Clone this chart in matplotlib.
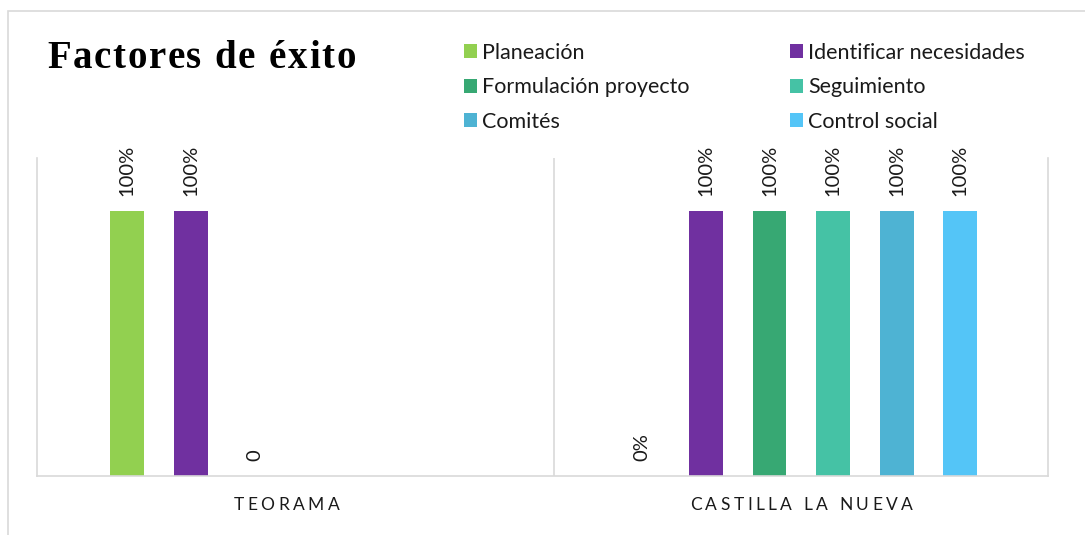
import numpy as np
import matplotlib.pyplot as plt
from matplotlib.patches import Rectangle
from matplotlib.font_manager import FontProperties

# datos
municipios = ["TEORAMA", "CASTILLA LA NUEVA"]
factores = ["Planeación", "Identificar necesidades", "Formulación proyecto",
            "Seguimiento", "Comités", "Control social"]
colores = ["#92D050", "#7030A0", "#37A873", "#45C2A5", "#4EB3D3", "#54C5F7"]

planeacion = [1.0, 0.0]
identificar = [1.0, 1.0]
formulacion = [0.0, 1.0]
seguimiento = [np.nan, 1.0]
comites = [np.nan, 1.0]
control_social = [np.nan, 1.0]
series = [planeacion, identificar, formulacion, seguimiento, comites, control_social]

# formato de etiqueta por serie y municipio (None = sin etiqueta)
formatos = [["{:.0%}", "{:.0%}"],
            ["{:.0%}", "{:.0%}"],
            ["{:.0f}", "{:.0%}"],
            [None, "{:.0%}"],
            [None, "{:.0%}"],
            [None, "{:.0%}"]]

W, H = 1085, 535
plt.rcParams['font.family'] = ['Lato', 'DejaVu Sans']
fig = plt.figure(figsize=(W / 100, H / 100), dpi=100)
renderer = fig.canvas.get_renderer()


def px(x, y):
    return x / W, 1 - y / H


def texto_espaciado(x, y, s, track, ha='left', **kw):
    # dibuja caracter por caracter con espaciado extra
    fp = FontProperties(family=kw.get('family'), size=kw.get('fontsize'),
                        weight=kw.get('fontweight', 'normal'))

    def ancho(t):
        if not t:
            return 0.0
        w, _, _ = renderer.get_text_width_height_descent(t, fp, ismath=False)
        return w

    total = ancho(s) + track * (len(s) - 1)
    x0 = x - total / 2 if ha == 'center' else x
    for i, ch in enumerate(s):
        fig.text(*px(x0 + ancho(s[:i]) + track * i, y), ch,
                 ha='left', va='baseline', **kw)


# marco del grafico
fig.patches.append(Rectangle(px(8, 600), (W + 20) / W, 589 / H, transform=fig.transFigure,
                             fill=False, edgecolor="#D9D9D9", linewidth=1.2))

ax = fig.add_axes([37 / W, 1 - 476 / H, (1048 - 37) / W, (476 - 158) / H])
x = np.arange(len(municipios))
ancho_barra = 0.066
paso = 0.1235
for i, (vals, col, fmts) in enumerate(zip(series, colores, formatos)):
    xs = x + (i - 2.5) * paso
    ax.bar(xs, np.nan_to_num(vals), width=ancho_barra, color=col, label=factores[i])
    for xi, v, f in zip(xs, vals, fmts):
        if f is None or np.isnan(v):
            continue
        ax.annotate(f.format(v), (xi, v), xytext=(0, 11), textcoords='offset points',
                    rotation=90, ha='center', va='bottom', fontsize=14.5, color="#1a1a1a")

ax.set_xlim(-0.484, 1.479)
ax.set_ylim(0, 1.2)
ax.set_xticks([])
ax.set_yticks([])
for lado in ['left', 'right', 'bottom']:
    ax.spines[lado].set_color("#D9D9D9")
    ax.spines[lado].set_linewidth(1.2)
ax.spines['top'].set_visible(False)
ax.axvline(0.52, color="#D9D9D9", linewidth=1.2)

for xi, nombre in zip(x, municipios):
    cx = ax.transData.transform((xi, 0))[0]
    texto_espaciado(cx, 510, nombre, 3.5, ha='center', fontsize=12.5, color="#1a1a1a")

texto_espaciado(47, 68, "Factores de éxito", 1.75, family='Liberation Serif',
                fontsize=28, fontweight='bold', color='black')

handles, labels = ax.get_legend_handles_labels()
for idx, xl in [([0, 2, 4], 464), ([1, 3, 5], 790)]:
    fig.legend([handles[k] for k in idx], [labels[k] for k in idx],
               loc='upper left', bbox_to_anchor=px(xl, 43), frameon=False,
               fontsize=15.5, handlelength=0.62, handleheight=0.62, handletextpad=0.22,
               labelspacing=0.67, borderpad=0, borderaxespad=0, labelcolor="#1a1a1a")

fig.savefig("out.png", dpi=100)
